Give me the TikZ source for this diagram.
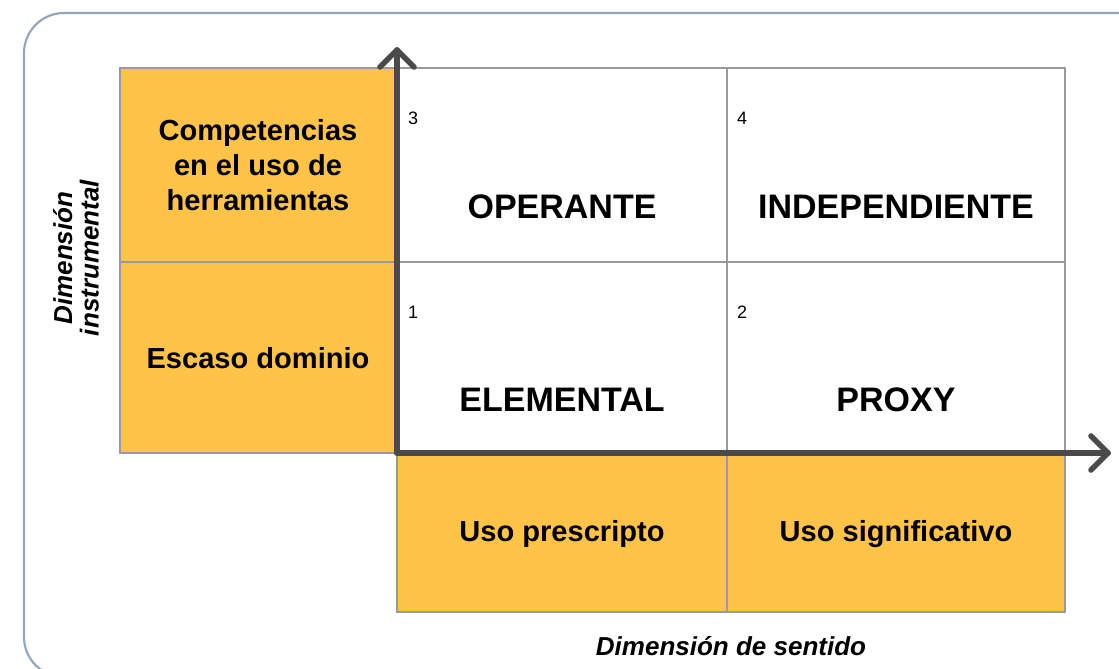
\documentclass[tikz,border=0pt]{standalone}
\usepackage{fontspec}
\setmainfont{Liberation Sans}
\usetikzlibrary{arrows.meta,calc}
\definecolor{orng}{HTML}{FFC447}
\definecolor{cellgray}{HTML}{9A9A9A}
\definecolor{axisgray}{HTML}{4A4A4A}
\definecolor{framec}{HTML}{93A5B8}
\begin{document}
\begin{tikzpicture}[x=0.75pt,y=-0.75pt,
  cell/.style={draw=cellgray,line width=1.6pt},
  orcell/.style={cell,fill=orng},
  axis/.style={draw=axisgray,line width=4.2pt,line cap=round,line join=round},
  lbl/.style={font=\fontsize{21.8}{26}\selectfont\bfseries,align=center},
  big/.style={font=\fontsize{25.5}{30}\selectfont\bfseries},
  num/.style={font=\fontsize{13.5}{16}\selectfont},
  ttl/.style={font=\fontsize{19.5}{23}\selectfont\bfseries\itshape,align=center}]
\useasboundingbox (0,0) rectangle (1119,668);
\begin{scope}
\clip (0,0) rectangle (1119,668);
\draw[framec,line width=1.6pt,rounded corners=30] (24,13) rectangle (1180,677);
\end{scope}
% left orange column
\draw[orcell] (120,68) rectangle (397,262);
\draw[orcell] (120,262) rectangle (397,453);
% grid
\draw[cell] (397,68) rectangle (727,262);
\draw[cell] (727,68) rectangle (1065,262);
\draw[cell] (397,262) rectangle (727,453);
\draw[cell] (727,262) rectangle (1065,453);
% bottom orange
\draw[orcell] (397,453) rectangle (727,612);
\draw[orcell] (727,453) rectangle (1065,612);
% texts
\node[lbl] (comp) at (258,165) {Competencias\\[0.5pt]en el uso de\\[0.5pt]herramientas};
\node[lbl] (esc) at (258,358) {Escaso dominio};
\node[big] (oper) at (562,207) {OPERANTE};
\node[big] (indep) at (896,207) {INDEPENDIENTE};
\node[big] (elem) at (562,400) {ELEMENTAL};
\node[big] (proxy) at (896,400) {PROXY};
\node[lbl] (presc) at (562,534) {Uso prescripto};
\node[lbl] (signif) at (896,534) {Uso significativo};
\node[num] (n3) at (413,118) {3};
\node[num] (n4) at (742,118) {4};
\node[num] (n1) at (413,312) {1};
\node[num] (n2) at (742,312) {2};
\node[ttl] (dsent) at (731,646) {Dimensión de sentido};
\node[ttl,rotate=90] (dinst) at (76,258) {Dimensión\\[-3pt]instrumental};
% axes
\coordinate (o) at (397,453);
\coordinate (ytip) at (397,50);
\coordinate (xtip) at (1108,453);
\draw[axis] (o) -- (ytip);
\draw[axis] (o) -- (xtip);
\draw[axis] ($(ytip)+(-17,17)$) -- (ytip) -- ($(ytip)+(17,17)$);
\draw[axis] ($(xtip)+(-17,-17)$) -- (xtip) -- ($(xtip)+(-17,17)$);
\end{tikzpicture}
\end{document}
